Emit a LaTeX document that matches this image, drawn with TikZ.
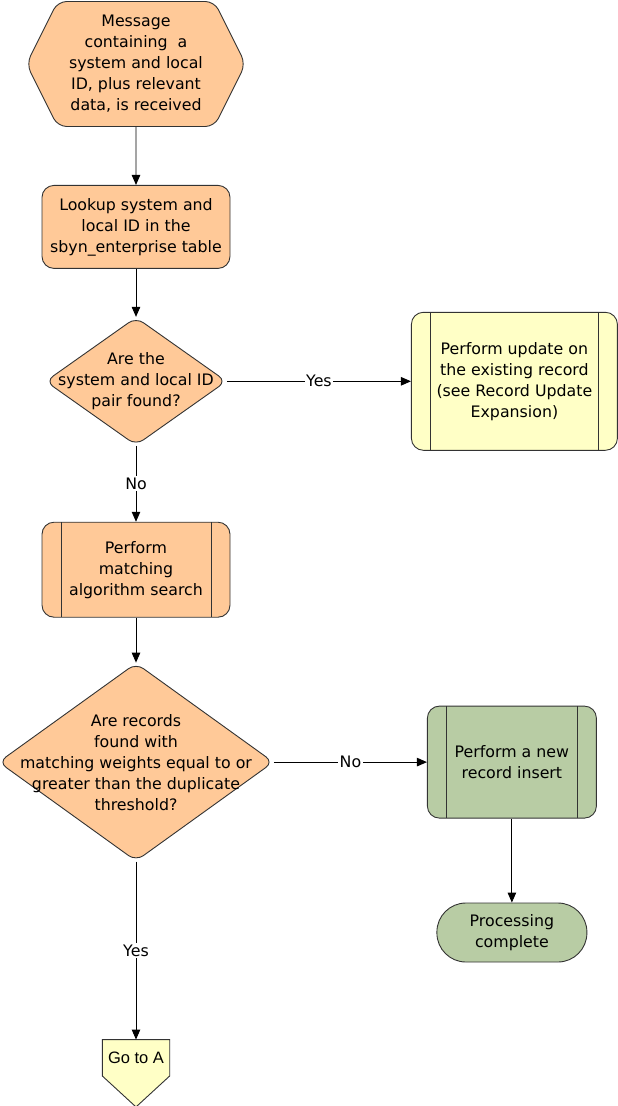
\documentclass[tikz,border=0pt]{standalone}
\usepackage{fontspec}
\setmainfont{DejaVu Sans}
\newfontfamily\arialfont{Liberation Sans}
\usetikzlibrary{arrows.meta,calc,positioning,shapes.geometric,shapes.symbols,backgrounds}

\definecolor{peach}{RGB}{255,201,152}
\definecolor{paleyellow}{RGB}{255,255,198}
\definecolor{sage}{RGB}{184,204,164}

\begin{document}
\begin{tikzpicture}[
  x=1pt, y=-1pt,
  every node/.style={font=\fontsize{15.8}{21}\selectfont},
  hexa/.style={draw=black!80, line width=0.9pt, fill=peach, signal, signal to=west and east, signal pointer angle=127, rounded corners=9pt, align=center, minimum width=219pt, minimum height=125pt, inner sep=0pt},
  stage/.style={draw=black!80, line width=0.9pt, fill=peach, rounded corners=12pt, align=center, minimum width=188pt, minimum height=83pt},
  predef/.style={stage, path picture={
      \draw[black!80, line width=0.9pt] ([xshift=19pt]path picture bounding box.north west) -- ([xshift=19pt]path picture bounding box.south west);
      \draw[black!80, line width=0.9pt] ([xshift=-19pt]path picture bounding box.north east) -- ([xshift=-19pt]path picture bounding box.south east);}},
  decision/.style={draw=black!80, line width=0.9pt, fill=peach, diamond, rounded corners=9pt, inner sep=0pt},
  terminal/.style={draw=black!80, line width=0.9pt, fill=sage, rounded corners=29pt, align=center, minimum width=150pt, minimum height=59pt},
  offpage/.style={font=\arialfont\fontsize{16.5}{19}\selectfont, minimum width=67pt, minimum height=36pt, inner sep=0pt},
  arrow/.style={-{Triangle[length=10pt, width=8.5pt]}, line width=0.9pt},
  lbl/.style={fill=white, inner sep=1.5pt}
]
\useasboundingbox (0,0) rectangle (618,1106);

\node[hexa] (msg) at (136,64) {Message\\containing\ \ a\\system and local\\ID, plus relevant\\data, is received};
\node[stage, below=58pt of msg] (lookup) {Lookup system and\\local ID in the\\sbyn\_enterprise table};
\node[decision, minimum width=181pt, minimum height=128pt, below=48pt of lookup] (found) {};
\node[align=center] (found-txt) at (found) {Are the\\system and local ID\\pair found?};
\node[predef, fill=paleyellow, minimum width=206pt, minimum height=138pt, right=184pt of found] (update) {Perform update on\\the existing record\\(see Record Update\\Expansion)};
\node[predef, minimum height=95pt, below=76pt of found] (search) {Perform\\matching\\algorithm search};
\node[decision, minimum width=275pt, minimum height=198pt, below=45pt of search] (weights) {};
\node[align=center] (weights-txt) at (weights) {Are records\\found with\\matching weights equal to or\\greater than the duplicate\\threshold?};
\node[predef, fill=sage, minimum width=169pt, minimum height=112pt, right=153pt of weights] (insert) {Perform a new\\record insert};
\node[terminal, below=84pt of insert] (done) {Processing\\complete};
\node[offpage, below=178pt of weights] (goto) {Go to A};

% off-page connector outline behind its text
\begin{scope}[on background layer]
  \draw[draw=black!80, line width=0.9pt, fill=paleyellow] (goto.north west) -- (goto.north east) -- (goto.south east) -- ($(goto.south)+(0,31)$) -- (goto.south west) -- cycle;
\end{scope}

\draw[arrow] (msg) -- (lookup);
\draw[arrow] (lookup) -- (found);
\draw[arrow] (found.east) -- node[lbl] {Yes} (update.west);
\draw[arrow] (found) -- node[lbl] {No} (search);
\draw[arrow] (search) -- (weights);
\draw[arrow] (weights.east) -- node[lbl] {No} (insert.west);
\draw[arrow] (insert) -- (done);
\draw[arrow] (weights) -- node[lbl] {Yes} (goto);
\end{tikzpicture}
\end{document}
